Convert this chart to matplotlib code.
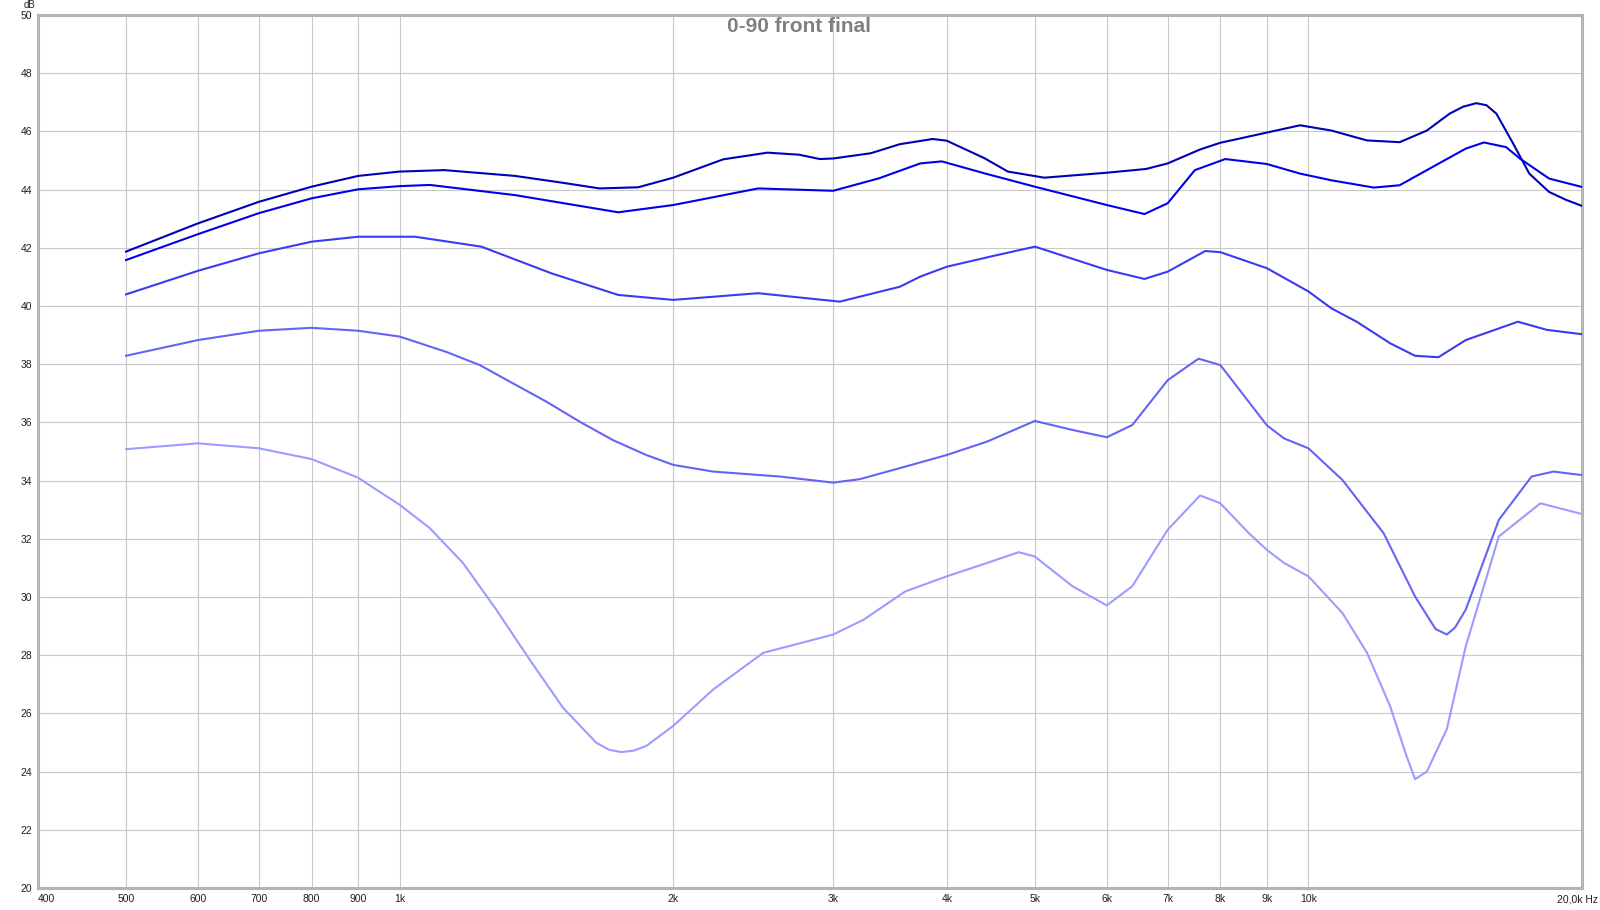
import numpy as np
import matplotlib
matplotlib.use("Agg")
import matplotlib.pyplot as plt

# Frequency response curves (Hz, dB)
freq_0 = [500, 600, 700, 800, 900, 1000, 1120, 1340, 1500, 1660, 1830, 2000, 2270, 2540,
          2750, 2900, 3000, 3300, 3550, 3860, 4000, 4400, 4670, 5120, 6000, 6630, 7000,
          7600, 8000, 9000, 9790, 10600, 11600, 12600, 13500, 14300, 14800, 15300, 15700,
          16100, 16800, 17500, 18400, 19200, 20000]
db_0 = [41.87, 42.84, 43.58, 44.10, 44.47, 44.62, 44.67, 44.47, 44.25, 44.04, 44.08, 44.41,
        45.04, 45.27, 45.20, 45.05, 45.07, 45.25, 45.56, 45.74, 45.68, 45.08, 44.62, 44.41,
        44.58, 44.71, 44.90, 45.38, 45.61, 45.96, 46.21, 46.03, 45.69, 45.63, 46.03, 46.61,
        46.85, 46.97, 46.90, 46.61, 45.58, 44.55, 43.92, 43.65, 43.44]

freq_1 = [500, 600, 700, 800, 900, 1000, 1080, 1340, 1740, 2000, 2480, 3000, 3370, 3740,
          3950, 4400, 5000, 6000, 6600, 7000, 7500, 8100, 9000, 9790, 10600, 11800, 12600,
          13700, 14900, 15600, 16500, 17100, 18400, 20000]
db_1 = [41.58, 42.47, 43.19, 43.70, 44.01, 44.12, 44.16, 43.81, 43.22, 43.47, 44.04, 43.96,
        44.39, 44.90, 44.97, 44.56, 44.10, 43.47, 43.16, 43.53, 44.67, 45.05, 44.88, 44.55,
        44.32, 44.07, 44.15, 44.78, 45.41, 45.62, 45.46, 45.06, 44.38, 44.09]

freq_2 = [500, 600, 700, 800, 900, 1040, 1230, 1470, 1740, 2000, 2480, 3050, 3550, 3740,
          4000, 4500, 5000, 6000, 6600, 7000, 7700, 8000, 9000, 10000, 10600, 11300, 12300,
          13100, 13900, 14900, 17000, 18300, 20000]
db_2 = [40.40, 41.21, 41.81, 42.21, 42.38, 42.38, 42.04, 41.12, 40.38, 40.21, 40.44, 40.15,
        40.66, 41.01, 41.35, 41.72, 42.04, 41.24, 40.93, 41.18, 41.89, 41.85, 41.30, 40.50,
        39.92, 39.46, 38.72, 38.29, 38.24, 38.83, 39.46, 39.18, 39.03]

freq_3 = [500, 600, 700, 800, 900, 1000, 1126, 1225, 1333, 1451, 1579, 1717, 1868, 2000,
          2213, 2620, 3000, 3210, 3600, 4000, 4430, 5000, 5500, 6000, 6400, 7000, 7570,
          8000, 8600, 9000, 9400, 10000, 10900, 12100, 13100, 13800, 14200, 14500, 14900,
          16200, 17600, 18600, 20000]
db_3 = [38.29, 38.83, 39.15, 39.25, 39.15, 38.95, 38.42, 37.97, 37.34, 36.71, 36.02, 35.39,
        34.88, 34.54, 34.31, 34.14, 33.93, 34.05, 34.48, 34.88, 35.34, 36.05, 35.74, 35.49,
        35.91, 37.45, 38.19, 37.97, 36.70, 35.90, 35.45, 35.11, 34.02, 32.19, 30.02, 28.90,
        28.71, 28.95, 29.57, 32.65, 34.14, 34.31, 34.19]

freq_4 = [500, 600, 700, 800, 900, 950, 1000, 1079, 1174, 1277, 1390, 1513, 1646, 1700,
          1754, 1810, 1868, 2000, 2213, 2512, 3000, 3240, 3600, 4000, 4430, 4800, 5000,
          5500, 6000, 6400, 7000, 7600, 8000, 8600, 9000, 9400, 10000, 10900, 11600, 12300,
          12800, 13100, 13500, 14200, 14900, 16200, 18000, 20000]
db_4 = [35.08, 35.28, 35.11, 34.74, 34.10, 33.62, 33.17, 32.37, 31.17, 29.57, 27.85, 26.19,
        24.99, 24.75, 24.67, 24.72, 24.88, 25.57, 26.82, 28.08, 28.71, 29.22, 30.19, 30.71,
        31.17, 31.54, 31.39, 30.37, 29.71, 30.37, 32.31, 33.49, 33.22, 32.19, 31.62, 31.17,
        30.71, 29.45, 28.08, 26.25, 24.60, 23.74, 24.00, 25.46, 28.31, 32.08, 33.22, 32.85]

curve_colors = ['#0000b4', '#0000ee', '#3a3af5', '#6464f5', '#9c9cff']

x_ticks = [400, 500, 600, 700, 800, 900, 1000, 2000, 3000, 4000, 5000, 6000, 7000,
           8000, 9000, 10000, 20000]
x_labels = ['400', '500', '600', '700', '800', '900', '1k', '2k', '3k', '4k', '5k', '6k',
            '7k', '8k', '9k', '10k', '']
y_ticks = list(range(20, 51, 2))

plt.rcParams['font.family'] = ['Liberation Sans', 'DejaVu Sans']

fig = plt.figure(figsize=(16, 9.1), dpi=100)
ax = fig.add_axes([0.02375, 0.0242, 0.965, 0.9593])

curves = [(freq_0, db_0), (freq_1, db_1), (freq_2, db_2), (freq_3, db_3), (freq_4, db_4)]
for (f, d), c in zip(curves, curve_colors):
    ax.plot(f, d, color=c, lw=1.5, solid_joinstyle='round', zorder=3)

ax.set_xscale('log')
ax.set_xlim(400, 20000)
ax.set_ylim(20, 50)
ax.set_xticks(x_ticks)
ax.set_xticklabels(x_labels)
ax.xaxis.set_minor_locator(matplotlib.ticker.NullLocator())
ax.set_yticks(y_ticks)
ax.tick_params(length=0, labelsize=7.5, colors='#202020', pad=4)
ax.get_xticklabels()[0].set_horizontalalignment('left')
ax.grid(True, color='#c8c8c8', lw=0.8)

for s in ax.spines.values():
    s.set_color('#b4b4b4')
    s.set_linewidth(2.2)

fig.text(0.999, 0.011, '20,0k Hz', ha='right', va='center', fontsize=7.5, color='#202020')
fig.text(0.0185, 0.9995, 'dB', ha='center', va='top', fontsize=7, color='#202020')
fig.text(0.4995, 0.971, '0-90 front final', ha='center', va='center', fontsize=15,
         fontweight='bold', color='#808080')

fig.savefig('out.png', dpi=100)
